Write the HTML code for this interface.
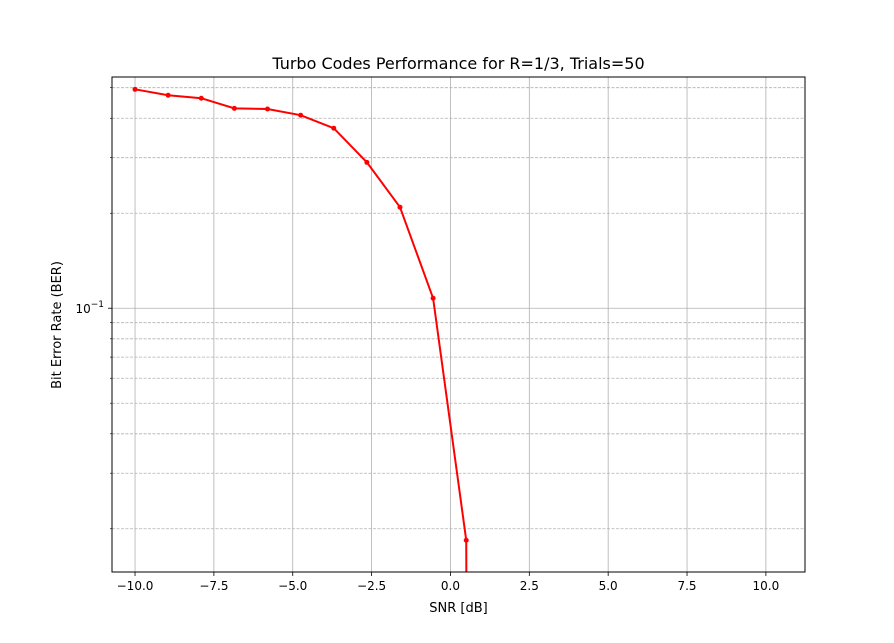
<!DOCTYPE html>
<html><head><meta charset="utf-8"><style>
html,body{margin:0;padding:0;background:#fff;}
svg{display:block;font-family:"DejaVu Sans","Liberation Sans",sans-serif;}
</style></head><body>
<svg id="chart" width="894" height="643" viewBox="0 0 894 643"></svg>
<script>
const snr = [-10, -8.95, -7.9, -6.85, -5.8, -4.75, -3.7, -2.65, -1.6, -0.55, 0.5, 1.55];
const ber = [0.494, 0.473, 0.463, 0.430, 0.428, 0.409, 0.372, 0.290, 0.209, 0.1076, 0.0184, 0];
const xTicks = [-10, -7.5, -5, -2.5, 0, 2.5, 5, 7.5, 10];
const xTickLabels = ["\u221210.0","\u22127.5","\u22125.0","\u22122.5","0.0","2.5","5.0","7.5","10.0"];
const yMinor = [0.02,0.03,0.04,0.05,0.06,0.07,0.08,0.09,0.2,0.3,0.4,0.5];

const L=112,R=805,T=77,B=572;
const xMin=-10.73,xMax=11.24;
const yMinLog=Math.log10(0.01459),yMaxLog=Math.log10(0.5405);
const xs=v=>L+(v-xMin)/(xMax-xMin)*(R-L);
const ys=v=>B-(Math.log10(v)-yMinLog)/(yMaxLog-yMinLog)*(B-T);
const svg=document.getElementById('chart');
const NS='http://www.w3.org/2000/svg';
function mk(tag,attrs,parent){const e=document.createElementNS(NS,tag);for(const k in attrs)e.setAttribute(k,attrs[k]);(parent||svg).appendChild(e);return e;}

// grid
xTicks.forEach((t,i)=>{
  const x=xs(t);
  const g=mk('line',{x1:x,x2:x,y1:T,y2:B,stroke:'#b0b0b0','stroke-width':0.8});
  
  
  const tk=mk('line',{x1:x,x2:x,y1:B,y2:B+4,stroke:'#000','stroke-width':0.8});
  
  
  const tx=mk('text',{x:x,y:B+18,'font-size':12,'text-anchor':'middle',fill:'#000'});
  tx.textContent=xTickLabels[i];
  
  
});
yMinor.forEach(v=>{
  const y=ys(v);
  const g=mk('line',{x1:L,x2:R,y1:y,y2:y,stroke:'#b0b0b0','stroke-width':0.8,'stroke-dasharray':'3,1.5'});
  
  
  const tk=mk('line',{x1:L-2,x2:L,y1:y,y2:y,stroke:'#000','stroke-width':0.6});
  
  
});
{
  const y=ys(0.1);
  const g=mk('line',{x1:L,x2:R,y1:y,y2:y,stroke:'#b0b0b0','stroke-width':0.8});
  
  
  mk('line',{x1:L-4,x2:L,y1:y,y2:y,stroke:'#000','stroke-width':0.8});
  const tx=mk('text',{x:L-8,y:y+5,'font-size':12,'text-anchor':'end',fill:'#000'});
  tx.innerHTML='10<tspan dy="-6" font-size="9">\u22121</tspan>';
  
  
}

// series
const clip=mk('clipPath',{id:'pc'});mk('rect',{x:L,y:T,width:R-L,height:B-T},clip);
let pts=[];
for(let i=0;i<snr.length;i++){
  if(ber[i]>0) pts.push([xs(snr[i]),ys(ber[i])]);
  else { if(pts.length) pts.push([pts[pts.length-1][0]+0.3,B+50]); break; }
}
const line=mk('polyline',{points:pts.map(p=>p.join(',')).join(' '),fill:'none',stroke:'#ff0000','stroke-width':2,'clip-path':'url(#pc)'});


for(let i=0;i<snr.length;i++){
  if(!(ber[i]>0)) continue;
  const c=mk('circle',{cx:xs(snr[i]),cy:ys(ber[i]),r:2.5,fill:'#ff0000'});
  
  
}

// frame & labels
const fr=mk('rect',{x:L,y:T,width:R-L,height:B-T,fill:'none',stroke:'#000','stroke-width':1});


const ti=mk('text',{x:(L+R)/2,y:69,'font-size':16,'text-anchor':'middle',fill:'#000'});
ti.textContent='Turbo Codes Performance for R=1/3, Trials=50';


const xl=mk('text',{x:(L+R)/2,y:612,'font-size':13,'text-anchor':'middle',fill:'#000'});
xl.textContent='SNR [dB]';


const yl=mk('text',{x:0,y:0,'font-size':13,'text-anchor':'middle',fill:'#000',transform:'translate(61,325) rotate(-90)'});
yl.textContent='Bit Error Rate (BER)';


</script>
</body></html>
